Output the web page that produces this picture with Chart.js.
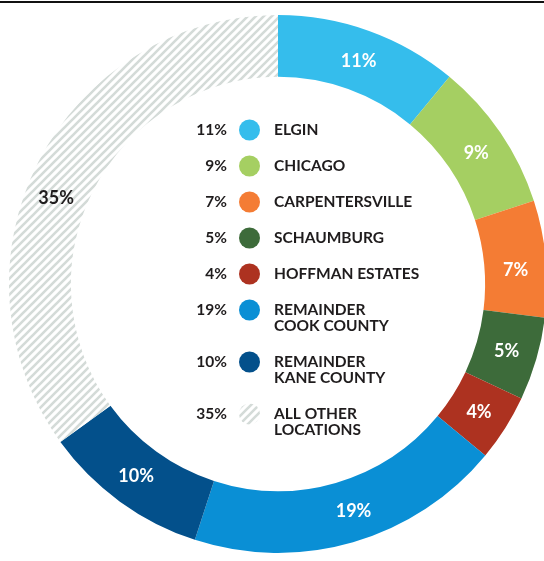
<!DOCTYPE html>
<html>
<head>
<meta charset="utf-8">
<script src="https://cdn.jsdelivr.net/npm/chart.js@4.4.1/dist/chart.umd.min.js"></script>
<style>
    html, body { margin: 0; padding: 0; background: #fff; overflow: hidden; width: 544px; height: 561px; }
    canvas { position: absolute; left: 0; top: 0; }
    #rule { position: absolute; left: 0; top: 1px; width: 544px; height: 2px; background: #111; }
</style>
</head>
<body>
<canvas id="shareChart" width="556" height="561"></canvas>
<div id="rule"></div>
<script>
// --- Data ---
const locations = [
    ['ELGIN'],
    ['CHICAGO'],
    ['CARPENTERSVILLE'],
    ['SCHAUMBURG'],
    ['HOFFMAN ESTATES'],
    ['REMAINDER', 'COOK COUNTY'],
    ['REMAINDER', 'KANE COUNTY'],
    ['ALL OTHER', 'LOCATIONS']
];
const shares = [11, 9, 7, 5, 4, 19, 10, 35];

// --- Colours ---
const hatchTile = document.createElement('canvas');
hatchTile.width = 8;
hatchTile.height = 8;
(function () {
    const g = hatchTile.getContext('2d');
    g.fillStyle = '#ffffff';
    g.fillRect(0, 0, 8, 8);
    g.strokeStyle = '#d4dbd8';
    g.lineWidth = 2.6;
    g.beginPath();
    g.moveTo(-1, 9); g.lineTo(9, -1);
    g.moveTo(-1, 1); g.lineTo(1, -1);
    g.moveTo(7, 9); g.lineTo(9, 7);
    g.stroke();
})();
const ctx = document.getElementById('shareChart').getContext('2d');
const hatch = ctx.createPattern(hatchTile, 'repeat');

const sliceColors = ['#35bdec', '#a5cf62', '#f47c34', '#3d6b3a', '#ad3220', '#0a8fd5', '#03508b', hatch];
const inkColor = '#1f1c1d';
const fontFamily = 'Lato, "Open Sans", sans-serif';

// small angular nudges (radians) for labels placed off-centre in the original
const labelNudge = [0, 0.01, 0.03, 0, 0, -0.04, 0.01, -0.10];

// Percent labels inside each slice
const sliceLabels = {
    id: 'sliceLabels',
    afterDatasetsDraw(chart) {
        const c = chart.ctx;
        const meta = chart.getDatasetMeta(0);
        c.save();
        c.font = 'bold 18px ' + fontFamily;
        c.textAlign = 'center';
        c.textBaseline = 'middle';
        meta.data.forEach((arc, i) => {
            const a = (arc.startAngle + arc.endAngle) / 2 + labelNudge[i];
            const r = (arc.innerRadius + arc.outerRadius) / 2;
            c.fillStyle = i === shares.length - 1 ? inkColor : '#ffffff';
            c.fillText(shares[i] + '%', arc.x + r * Math.cos(a), arc.y + r * Math.sin(a) + 1);
        });
        c.restore();
    }
};

// Legend drawn in the hole of the ring
const centerLegend = {
    id: 'centerLegend',
    afterDraw(chart) {
        const c = chart.ctx;
        c.save();
        c.font = 'bold 15.5px ' + fontFamily;
        c.textBaseline = 'middle';
        let y = 130;
        locations.forEach((lines, i) => {
            c.fillStyle = inkColor;
            c.textAlign = 'right';
            c.fillText(shares[i] + '%', 227, y);

            c.beginPath();
            c.arc(249.5, y, 10.5, 0, Math.PI * 2);
            c.fillStyle = sliceColors[i];
            c.fill();

            c.fillStyle = inkColor;
            c.textAlign = 'left';
            lines.forEach((t, k) => c.fillText(t, 274, y + k * 16));
            y += 36 + (lines.length - 1) * 16;
        });
        c.restore();
    }
};

new Chart(ctx, {
    type: 'doughnut',
    data: {
        labels: locations.map(l => l.join(' ')),
        datasets: [{
            data: shares,
            backgroundColor: sliceColors,
            borderWidth: 0
        }]
    },
    options: {
        responsive: false,
        animation: false,
        cutout: '77%',
        layout: { padding: { left: 9, right: 9, top: 15, bottom: 8 } },
        plugins: {
            legend: { display: false },
            tooltip: { enabled: false }
        }
    },
    plugins: [sliceLabels, centerLegend]
});
</script>
</body>
</html>
